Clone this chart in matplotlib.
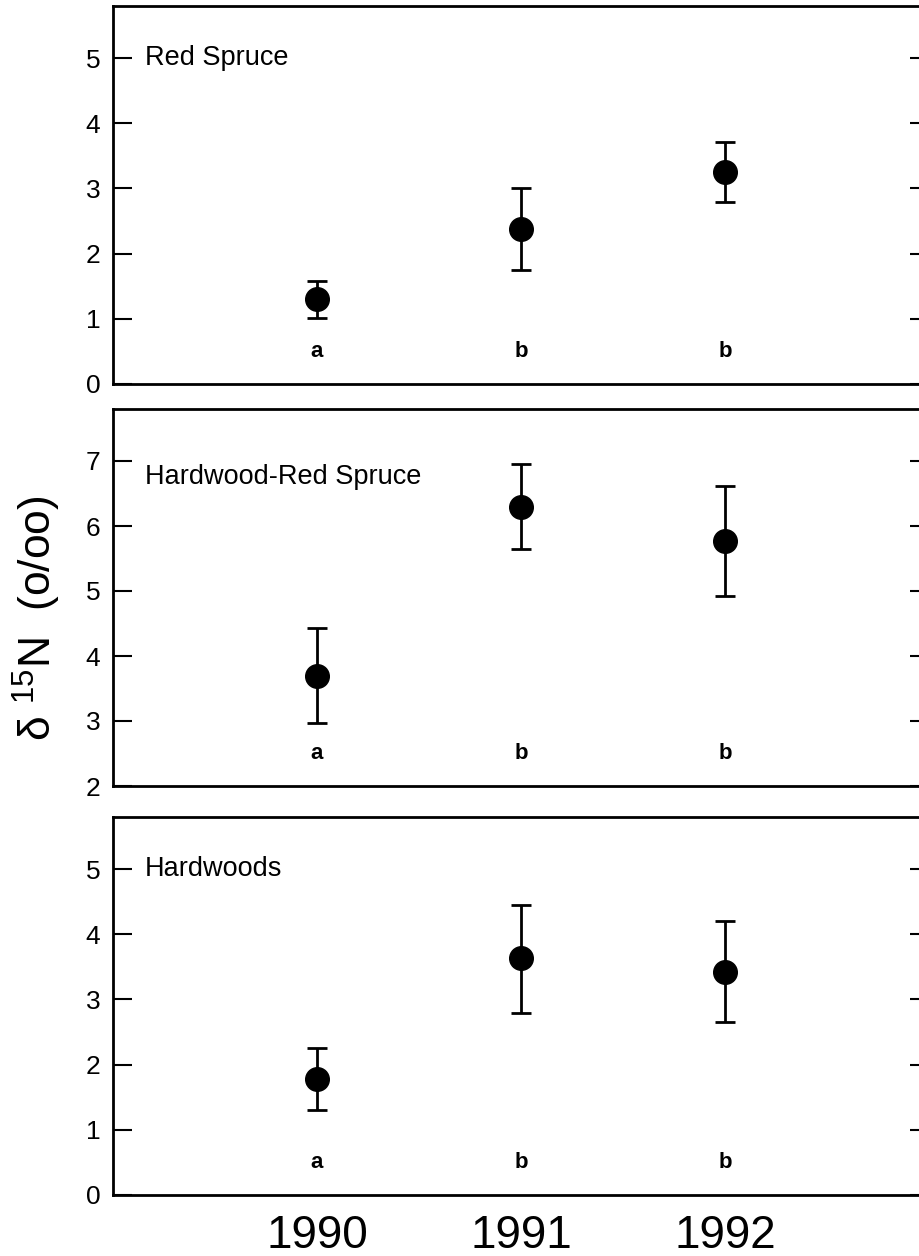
import matplotlib
matplotlib.use("Agg")
import matplotlib.pyplot as plt

plt.rcParams['font.family'] = ['Liberation Sans', 'DejaVu Sans']
plt.rcParams['mathtext.fontset'] = 'custom'
plt.rcParams['mathtext.rm'] = 'Liberation Sans'
plt.rcParams['mathtext.default'] = 'regular'

years = [1990, 1991, 1992]
panel_names = ["Red Spruce", "Hardwood-Red Spruce", "Hardwoods"]

spruce_mean = [1.30, 2.38, 3.25]
spruce_lo = [0.28, 0.63, 0.45]
spruce_hi = [0.28, 0.62, 0.47]
spruce_letters = ["a", "b", "b"]

mixed_mean = [3.70, 6.30, 5.77]
mixed_lo = [0.73, 0.65, 0.85]
mixed_hi = [0.73, 0.65, 0.85]
mixed_letters = ["a", "b", "b"]

hard_mean = [1.78, 3.63, 3.42]
hard_lo = [0.48, 0.83, 0.77]
hard_hi = [0.47, 0.82, 0.78]
hard_letters = ["a", "b", "b"]

ylims = [(0, 5.8), (2, 7.8), (0, 5.8)]
yticks = [[0, 1, 2, 3, 4, 5], [2, 3, 4, 5, 6, 7], [0, 1, 2, 3, 4, 5]]
label_y = [5.0, 6.75, 5.0]

means = [spruce_mean, mixed_mean, hard_mean]
los = [spruce_lo, mixed_lo, hard_lo]
his = [spruce_hi, mixed_hi, hard_hi]
letters = [spruce_letters, mixed_letters, hard_letters]

W, H = 920, 1256
fig = plt.figure(figsize=(W / 100, H / 100), dpi=100)

left = 113 / W
width = (929 - 113) / W
panels_px = [(6, 384), (409, 786), (817, 1195)]

for i in range(3):
    top_px, bot_px = panels_px[i]
    ax = fig.add_axes([left, 1 - bot_px / H, width, (bot_px - top_px) / H])
    ax.errorbar(years, means[i], yerr=[los[i], his[i]], fmt='o', color='black',
                markersize=17, elinewidth=2.0, capsize=7.5, capthick=2.0)
    ax.set_xlim(1989, 1993)
    ax.set_ylim(*ylims[i])
    ax.set_yticks(yticks[i])
    ax.tick_params(axis='y', direction='in', length=13.5, width=1.5,
                   labelsize=19, pad=9, right=True)
    for s in ax.spines.values():
        s.set_linewidth(2.0)
    ax.text((145 - 113) / (929 - 113), label_y[i], panel_names[i],
            transform=ax.get_yaxis_transform(), fontsize=19.5, va='center', ha='left')
    y0 = ylims[i][0]
    for x, lt in zip(years, letters[i]):
        ax.text(x, y0 + 0.5, lt, fontsize=16, fontweight='bold', ha='center', va='center')
    ax.set_xticks(years)
    if i < 2:
        ax.tick_params(axis='x', length=0, labelbottom=False)
    else:
        ax.tick_params(axis='x', length=0, labelsize=33, pad=14)

fig.text(37 / W, 1 - 618 / H, r'$\delta$ $^{15}$N  (o/oo)', rotation=90,
         fontsize=32, ha='center', va='center')

fig.savefig('out.png', dpi=100)
